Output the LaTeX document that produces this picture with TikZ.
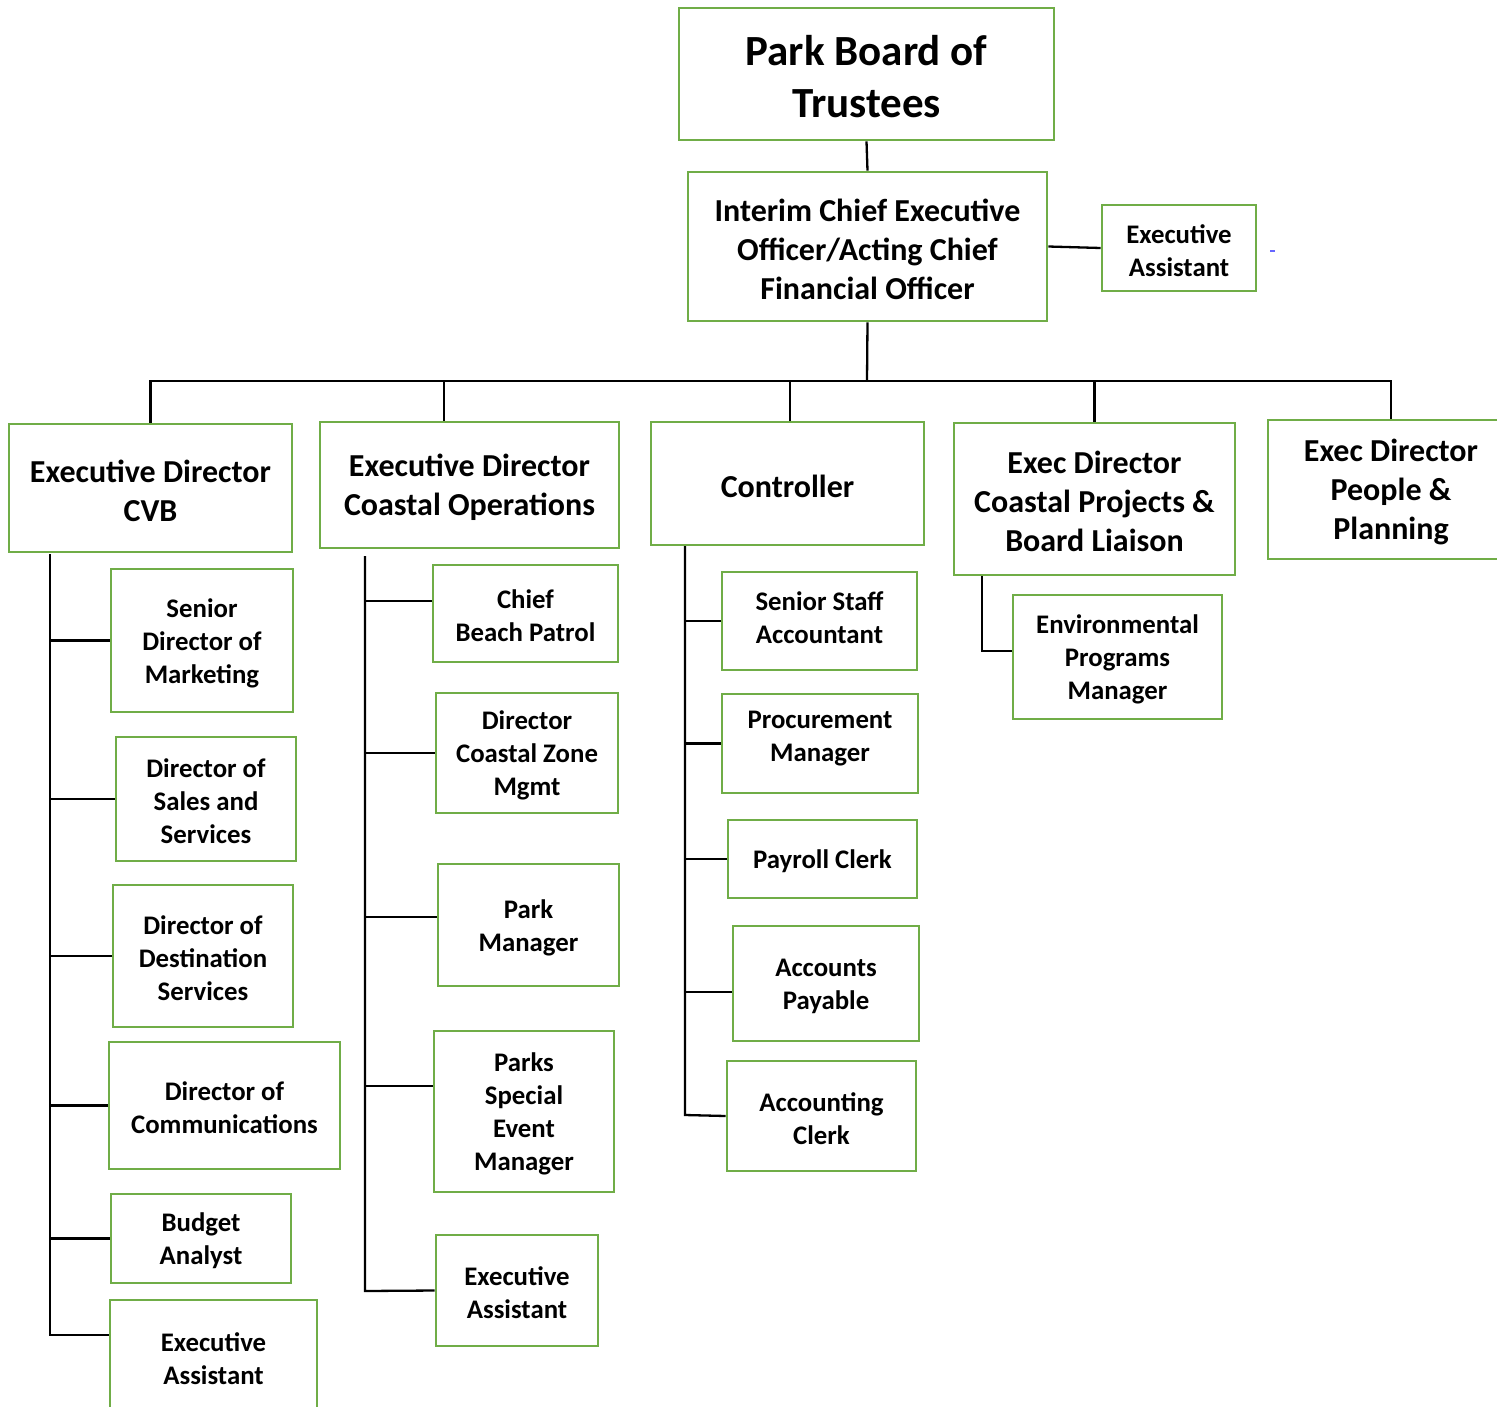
\documentclass[tikz,border=0pt]{standalone}
\usepackage{fontspec}
\setmainfont{Carlito}
\definecolor{boxgreen}{HTML}{70AD47}
\newcommand\OB[7]{%
  \node[bx,minimum width=#4pt,minimum height=#5pt] (#1) at (#2,#3) {};
  \node[lab,#6] (#1t) at ([yshift=-2.5pt]#1.center) {#7};}
\begin{document}
\begin{tikzpicture}[x=1pt,y=-1pt,
  bx/.style={draw=boxgreen, line width=2.6pt, inner sep=0pt},
  lab/.style={inner sep=0pt, align=center, font=\bfseries\fontsize{26.8}{33}\selectfont},
  big/.style={font=\bfseries\fontsize{43}{52}\selectfont},
  mid/.style={font=\bfseries\fontsize{32}{39}\selectfont},
  con/.style={line width=2.3pt, black}]
\useasboundingbox (0,0) rectangle (1497,1406);
\clip (0,0) rectangle (1497,1406);
% top
\OB{park}{866.5}{74}{375}{132}{big}{Park Board of\\Trustees}
\OB{ceo}{867.5}{246.5}{359}{149}{mid}{Interim Chief Executive\\Officer/Acting Chief\\Financial Officer}
\OB{eatop}{1179}{248}{154}{86}{}{Executive\\Assistant}
% level 2
\OB{cvb}{150.5}{488}{283}{128}{mid}{Executive Director\\CVB}
\OB{ops}{469.5}{485}{299}{126}{mid}{Executive Director\\Coastal Operations}
\OB{ctrl}{787.5}{483.5}{273}{123}{mid}{Controller}
\OB{proj}{1094.5}{499}{281}{152}{mid}{Exec Director\\Coastal Projects \&\\Board Liaison}
\OB{ppl}{1391}{489.5}{246}{139}{mid}{Exec Director\\People \&\\Planning}
% CVB children
\OB{mkt}{202}{640.5}{182}{143}{}{Senior\\Director of\\Marketing}
\OB{sales}{206}{799}{180}{124}{}{Director of\\Sales and\\Services}
\OB{dest}{203}{956}{180}{142}{}{Director of\\Destination\\Services}
\OB{comm}{224.5}{1105.5}{231}{127}{}{Director of\\Communications}
\OB{budget}{201}{1238.5}{180}{89}{}{Budget\\Analyst}
\OB{eacvb}{213.5}{1356}{207}{112}{}{Executive\\Assistant}
% Ops children
\OB{beach}{525.5}{613.5}{185}{97}{}{Chief\\Beach Patrol}
\OB{zone}{527}{753}{182}{120}{}{Director\\Coastal Zone\\Mgmt}
\OB{parkm}{528.5}{925}{181}{122}{}{Park\\Manager}
\OB{event}{524}{1111.5}{180}{161}{}{Parks\\Special\\Event\\Manager}
\OB{eaops}{517}{1290.5}{162}{111}{}{Executive\\Assistant}
% Controller children
\OB{ssa}{819.5}{621}{195}{98}{yshift=6pt}{Senior Staff\\Accountant}
\OB{proc}{820}{743.5}{196}{99}{yshift=7pt}{Procurement\\Manager}
\OB{payroll}{822.5}{859}{189}{78}{}{Payroll Clerk}
\OB{ap}{826}{983.5}{186}{115}{}{Accounts\\Payable}
\OB{acct}{821.5}{1116}{189}{110}{}{Accounting\\Clerk}
% Projects child
\OB{env}{1117.5}{657}{209}{124}{}{Environmental\\Programs\\Manager}
% connectors top
\draw[con] (park.south) -- (ceo.north);
\draw[con] (ceo.east) -- (eatop.west);
\coordinate (bus) at (867,381);
\draw[con] (ceo.south) -- (bus);
\draw[con] (cvb.north) -- (cvb.north |- bus) -- (ppl.north |- bus) -- (ppl.north);
\draw[con] ([xshift=-25.5pt]ops.north) -- ([xshift=-25.5pt]ops.north |- bus);
\draw[con] ([xshift=2.5pt]ctrl.north) -- ([xshift=2.5pt]ctrl.north |- bus);
\draw[con] (proj.north) -- (proj.north |- bus);
% CVB spine
\coordinate (cvbs) at (50,554);
\coordinate (cvbe) at (50,1335);
\draw[con] (cvbs) -- (cvbe) -- ([yshift=21pt]eacvb.west);
\draw[con] (mkt.west) -- (mkt.west -| cvbs);
\draw[con] (sales.west) -- (sales.west -| cvbs);
\draw[con] (dest.west) -- (dest.west -| cvbs);
\draw[con] (comm.west) -- (comm.west -| cvbs);
\draw[con] (budget.west) -- (budget.west -| cvbs);
% Ops spine
\coordinate (opss) at (365,556);
\coordinate (opse) at (365,1291);
\draw[con] (opss) -- (opse) -- (eaops.west);
\draw[con] ([yshift=12.5pt]beach.west) -- ([yshift=12.5pt]beach.west -| opss);
\draw[con] (zone.west) -- (zone.west -| opss);
\draw[con] ([yshift=8pt]parkm.west) -- ([yshift=8pt]parkm.west -| opss);
\draw[con] ([yshift=25.5pt]event.west) -- ([yshift=25.5pt]event.west -| opss);
% Controller spine
\coordinate (ctrls) at (685,546);
\coordinate (ctrle) at (685,1115);
\draw[con] (ctrls) -- (ctrle) -- (acct.west);
\draw[con] (ssa.west) -- (ssa.west -| ctrls);
\draw[con] (proc.west) -- (proc.west -| ctrls);
\draw[con] (payroll.west) -- (payroll.west -| ctrls);
\draw[con] ([yshift=-8.5pt]ap.west) -- ([yshift=-8.5pt]ap.west -| ctrls);
% Projects
\draw[con] ([xshift=-112.5pt]proj.south) |- ([yshift=6pt]env.west);
% stray mark
\draw[line width=1.5pt, color=blue!60!white] (1270,251) -- (1275,251);
\end{tikzpicture}
\end{document}
